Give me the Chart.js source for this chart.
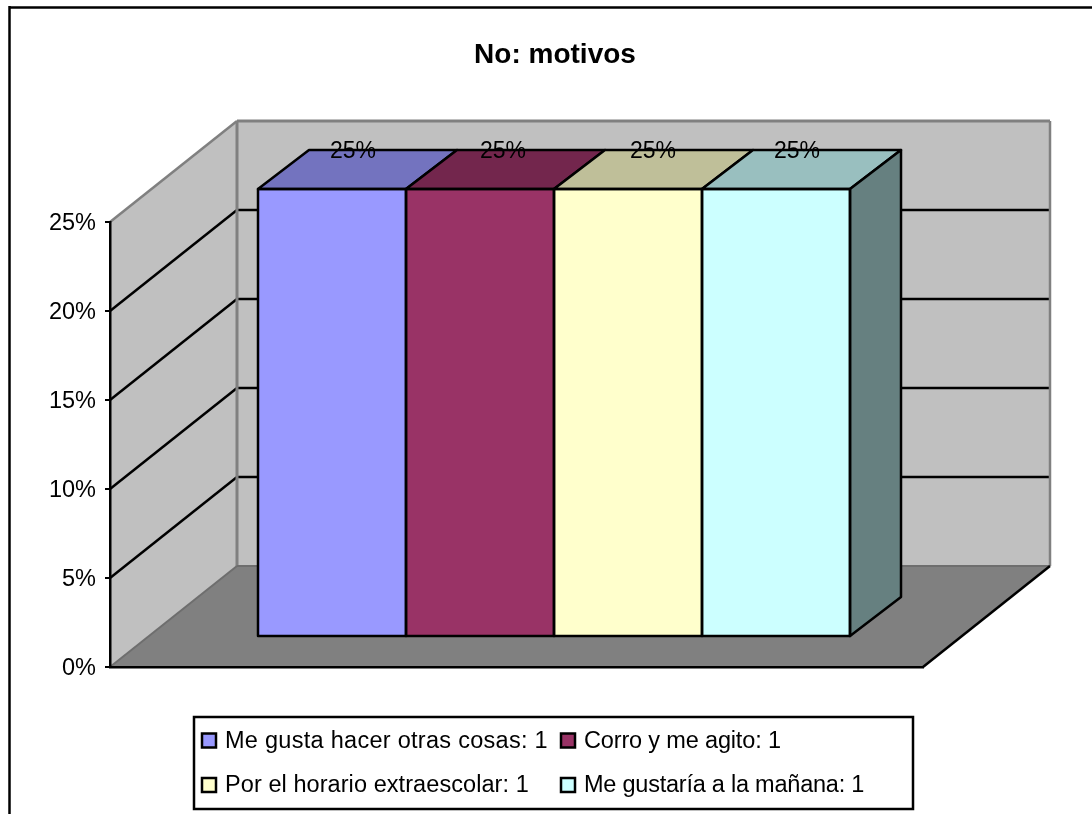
<!DOCTYPE html>
<html><head><meta charset="utf-8">
<style>html,body{margin:0;padding:0;background:#fff;overflow:hidden}canvas{display:block}</style>
<script src="https://cdn.jsdelivr.net/npm/chart.js@4"></script>
</head><body><div style="width:1092px;height:814px"><canvas id="c" width="1092" height="814"></canvas></div>
<script>
const titleText = 'No: motivos';
const categories = ['No: motivos'];
const seriesNames = ['Me gusta hacer otras cosas: 1','Corro y me agito: 1','Por el horario extraescolar: 1','Me gustaría a la mañana: 1'];
const seriesValues = [[25],[25],[25],[25]];
const seriesColors = ['#9999FF','#993366','#FFFFCC','#CCFFFF'];
const tickStep = 5;
const FONT = '"Liberation Sans", Arial, sans-serif';

function shade(hex,f){const n=parseInt(hex.slice(1),16);return `rgb(${Math.round((n>>16&255)*f)},${Math.round((n>>8&255)*f)},${Math.round((n&255)*f)})`;}
function poly(ctx,pts,fill,stroke,lw){ctx.beginPath();pts.forEach((p,i)=>i?ctx.lineTo(p[0],p[1]):ctx.moveTo(p[0],p[1]));ctx.closePath();
  if(fill){ctx.fillStyle=fill;ctx.fill();} if(stroke){ctx.strokeStyle=stroke;ctx.lineWidth=lw;ctx.stroke();}}
function seg(ctx,a,b,c,lw){ctx.beginPath();ctx.moveTo(a[0],a[1]);ctx.lineTo(b[0],b[1]);ctx.strokeStyle=c;ctx.lineWidth=lw;ctx.stroke();}

// 3D projection of the plot: wall depth, and where the bars stand on the floor
const WALL={dx:127,dy:-101};
const BAR={tx:37.5,ty:-30,sy:448/445,dx:51,dy:-39};
const LABEL_NUDGE=[-4.5,-2.5,-0.5,-4.5];
const LEGEND_SPACING=[0.28,-0.16,0.07,-0.23];
const LW=2.5;

const frame3d={id:'frame3d',
  afterLayout(chart){const t=chart.titleBlock;if(t){t.left=0;t.right=1110;}},
  beforeDraw(chart){
    const {ctx,chartArea:a,scales:{y}}=chart;
    ctx.save();
    ctx.fillStyle='#fff';ctx.fillRect(0,0,chart.width,chart.height);
    // outer frame: only the top and left edges are in the picture
    seg(ctx,[9.5,7.5],[1092,7.5],'#000',LW);seg(ctx,[9.5,6],[9.5,814],'#000',LW);
    const b=y.getPixelForValue(0),t=y.getPixelForValue(25),l=a.left,r=a.right,d=WALL;
    poly(ctx,[[l,b],[l,t],[l+d.dx,t+d.dy],[l+d.dx,b+d.dy]],'#c0c0c0');
    poly(ctx,[[l+d.dx,b+d.dy],[l+d.dx,t+d.dy],[r+d.dx,t+d.dy],[r+d.dx,b+d.dy]],'#c0c0c0');
    poly(ctx,[[l,b],[l+d.dx,b+d.dy],[r+d.dx,b+d.dy],[r,b]],'#808080');
    for(let v=tickStep;v<25;v+=tickStep){const p=y.getPixelForValue(v);
      seg(ctx,[l,p],[l+d.dx,p+d.dy],'#000',LW);
      seg(ctx,[l+d.dx,p+d.dy],[r+d.dx,p+d.dy],'#000',LW);}
    // wall edges
    seg(ctx,[l,t],[l+d.dx,t+d.dy],'#808080',2.5);
    seg(ctx,[l+d.dx,t+d.dy],[r+d.dx,t+d.dy],'#808080',3);
    seg(ctx,[r+d.dx,t+d.dy],[r+d.dx,b+d.dy],'#808080',2.5);
    seg(ctx,[l+d.dx,t+d.dy],[l+d.dx,b+d.dy],'#808080',3);
    seg(ctx,[l+d.dx,b+d.dy],[r+d.dx,b+d.dy],'#6e6e6e',2);
    seg(ctx,[l,b],[l+d.dx,b+d.dy],'#6e6e6e',2);
    seg(ctx,[r,b],[r+d.dx,b+d.dy],'#000',LW);
    ctx.restore();
  },
  beforeDatasetsDraw(chart){
    const {ctx,chartArea:a}=chart;
    ctx.save();
    ctx.translate(BAR.tx,BAR.ty+a.bottom*(1-BAR.sy));
    ctx.scale(1,BAR.sy);
  },
  afterDatasetsDraw(chart){
    const {ctx,chartArea:a}=chart;
    ctx.restore();
    ctx.save();
    const my=p=>p*BAR.sy+BAR.ty+a.bottom*(1-BAR.sy), mx=p=>p+BAR.tx;
    const n=chart.data.datasets.length;
    const rects=chart.data.datasets.map((ds,i)=>{const e=chart.getDatasetMeta(i).data[0];
      const hw=e.width/2;return {l:mx(e.x-hw),r:mx(e.x+hw),t:my(e.y),b:my(e.base),c:ds.backgroundColor};});
    ctx.lineJoin='round';
    rects.forEach((q,i)=>{
      poly(ctx,[[q.l,q.t],[q.l+BAR.dx,q.t+BAR.dy],[q.r+BAR.dx,q.t+BAR.dy],[q.r,q.t]],shade(q.c,0.75),'#000',LW);
      if(i===n-1) poly(ctx,[[q.r,q.t],[q.r+BAR.dx,q.t+BAR.dy],[q.r+BAR.dx,q.b+BAR.dy],[q.r,q.b]],shade(q.c,0.5),'#000',LW);
      poly(ctx,[[q.l,q.t],[q.r,q.t],[q.r,q.b],[q.l,q.b]],null,'#000',LW);
    });
    // data labels
    ctx.fillStyle='#000';ctx.font='24px '+FONT;ctx.textAlign='center';ctx.textBaseline='middle';
    rects.forEach((q,i)=>{ctx.fillText(seriesValues[i][0]+'%',(q.l+q.r)/2+BAR.dx/2+LABEL_NUDGE[i],q.t+BAR.dy+1,46);});
    ctx.restore();
  },
  afterDraw(chart){
    const {ctx}=chart;ctx.save();
    // legend
    ctx.strokeStyle='#000';ctx.lineWidth=LW;ctx.fillStyle='#fff';
    ctx.fillRect(194,717,719,92);ctx.strokeRect(194,717,719,92);
    ctx.font='23.5px '+FONT;ctx.textBaseline='middle';ctx.textAlign='left';
    const cols=[202,561],rows=[741,785.5];
    seriesNames.forEach((s,i)=>{const x=cols[i%2],yy=rows[i>>1];
      ctx.fillStyle=seriesColors[i];ctx.fillRect(x,yy-7.5,14,14);
      ctx.strokeStyle='#000';ctx.lineWidth=LW;ctx.strokeRect(x,yy-7.5,14,14);
      ctx.letterSpacing=LEGEND_SPACING[i]+'px';
      ctx.fillStyle='#000';ctx.fillText(s,x+23,yy+0.5);});
    ctx.restore();
  }
};

new Chart(document.getElementById('c'),{
  type:'bar',
  data:{labels:categories,datasets:seriesNames.map((s,i)=>({label:s,data:seriesValues[i],backgroundColor:seriesColors[i],borderWidth:0,categoryPercentage:592/813,barPercentage:1}))},
  plugins:[frame3d],
  options:{
    responsive:false,animation:false,
    layout:{padding:{left:0,top:0,right:169,bottom:147}},
    plugins:{
      legend:{display:false},tooltip:{enabled:false},
      title:{display:true,text:titleText,color:'#000',font:{family:FONT,size:28,weight:'bold',lineHeight:1.2},padding:{top:38.6,bottom:149.8}}
    },
    scales:{
      x:{ticks:{display:false},grid:{drawOnChartArea:false,drawTicks:false},border:{color:'#000',width:LW},afterFit(s){s.height=0;}},
      y:{min:0,max:25,afterFit(s){s.width=110;},
        ticks:{stepSize:tickStep,color:'#000',padding:9,labelOffset:2,font:{family:FONT,size:23.5},callback:v=>v+'%'},
        grid:{drawOnChartArea:false,drawTicks:true,tickLength:5,color:'#000',lineWidth:2},
        border:{color:'#000',width:LW}}
    }
  }
});
</script></body></html>
